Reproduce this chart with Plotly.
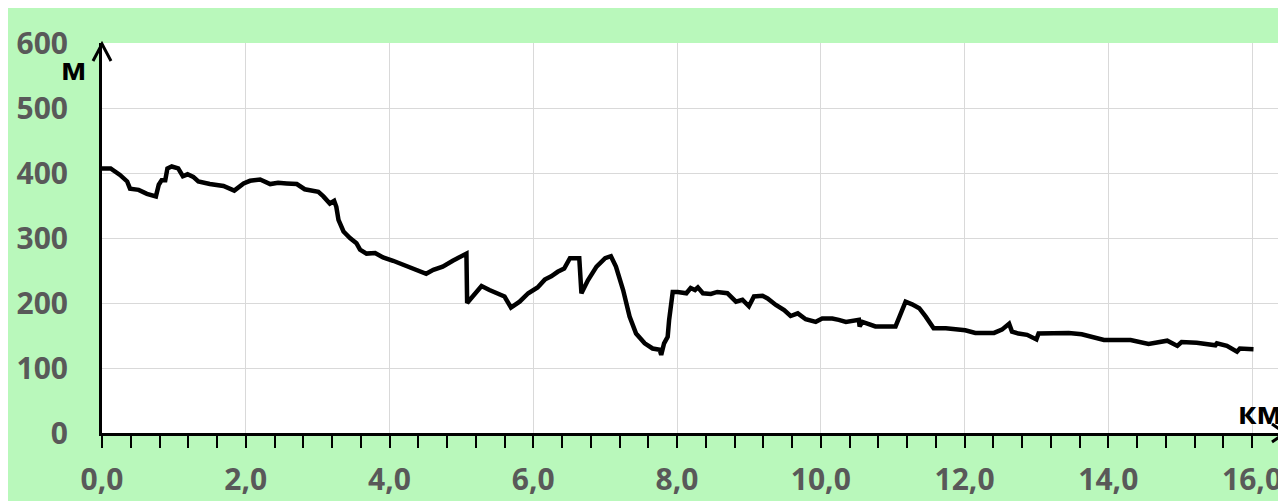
import plotly.graph_objects as go

# distance along route, km
dist_km = [0.0, 0.12, 0.25, 0.35, 0.39, 0.51, 0.625, 0.75, 0.79, 0.83, 0.88, 0.91, 0.97, 1.06, 1.125,
           1.19, 1.27, 1.34, 1.50, 1.69, 1.84, 1.97, 2.06, 2.20, 2.34, 2.45, 2.57, 2.71, 2.82, 2.89,
           3.01, 3.08, 3.17, 3.23, 3.26, 3.29, 3.36, 3.45, 3.54, 3.59, 3.68, 3.80, 3.91, 4.05, 4.24,
           4.40, 4.51, 4.61, 4.74, 4.88, 4.98, 5.07, 5.08, 5.16, 5.28, 5.39, 5.53, 5.60, 5.69, 5.81,
           5.93, 6.06, 6.16, 6.25, 6.34, 6.43, 6.51, 6.57, 6.64, 6.67, 6.76, 6.88, 7.0, 7.08, 7.15,
           7.25, 7.34, 7.43, 7.55, 7.66, 7.76, 7.78, 7.82, 7.87, 7.89, 7.94, 8.01, 8.13, 8.19, 8.25,
           8.29, 8.36, 8.47, 8.56, 8.70, 8.82, 8.91, 9.0, 9.07, 9.19, 9.26, 9.375, 9.49, 9.58, 9.68,
           9.79, 9.93, 10.02, 10.16, 10.25, 10.35, 10.53, 10.54, 10.58, 10.76, 11.04, 11.11, 11.18,
           11.27, 11.37, 11.46, 11.57, 11.74, 12.01, 12.15, 12.41, 12.52, 12.62, 12.66, 12.75, 12.87,
           13.0, 13.03, 13.22, 13.45, 13.63, 13.80, 13.94, 14.31, 14.56, 14.82, 14.96, 15.02, 15.23,
           15.49, 15.51, 15.65, 15.79, 15.83, 16.02]

# elevation, m
elev_m = [407, 407, 397, 387, 376, 374, 368, 364, 382, 389, 389, 407, 410, 407, 395,
          398, 394, 387, 383, 380, 373, 384, 388, 390, 383, 385, 384, 383, 375, 374,
          371, 364, 353, 357, 348, 328, 310, 300, 292, 282, 276, 277, 270, 265, 256,
          250, 245, 251, 256, 265, 271, 276, 200, 210, 226, 220, 214, 210, 193, 202,
          215, 224, 236, 241, 248, 253, 269, 269, 269, 215, 235, 256, 269, 272, 256,
          220, 179, 153, 138, 130, 128, 120, 138, 148, 174, 217, 217, 215, 223, 220,
          224, 215, 214, 217, 215, 202, 205, 195, 210, 211, 207, 197, 189, 180, 184,
          175, 171, 176, 176, 174, 171, 174, 164, 171, 164, 164, 184, 202,
          198, 192, 179, 161, 161, 158, 154, 154, 159, 168, 156, 153, 151,
          144, 153, 153, 154, 152, 147, 143, 143, 137, 142, 134, 140, 139,
          135, 138, 134, 125, 130, 129]

assert len(dist_km) == len(elev_m)

x_tick_vals = [0, 2, 4, 6, 8, 10, 12, 14, 16]
x_minor_vals = [round(i * 0.4, 1) for i in range(0, 41)]
y_tick_vals = [0, 100, 200, 300, 400, 500, 600]
x_unit = "км"
y_unit = "м"

GREEN = "#b9f8bb"
LABEL_GREY = "#595959"
FONT = "Open Sans"

fig = go.Figure()
fig.add_trace(go.Scatter(x=dist_km, y=elev_m, mode="lines",
                         line=dict(color="black", width=4.5), hoverinfo="skip"))

W, H = 1286, 501
ML, MR, MT, MB = 92, 9, 35, 76
pw = W - ML - MR
ph = H - MT - MB

fig.update_layout(
    width=W, height=H,
    margin=dict(l=ML, r=MR, t=MT, b=MB, pad=0),
    paper_bgcolor=GREEN, plot_bgcolor="white",
    separators=", ",
    showlegend=False,
    font=dict(family=FONT),
    xaxis=dict(range=[0, pw / 72.0], tickmode="array", tickvals=x_tick_vals, tickformat=".1f",
               showgrid=True, gridcolor="#d9d9d9", gridwidth=1,
               showline=True, linecolor="black", linewidth=3,
               ticks="outside", ticklen=12, tickwidth=2, tickcolor="black",
               minor=dict(tickmode="array", tickvals=x_minor_vals, ticks="outside",
                          ticklen=12, tickwidth=2, tickcolor="black", showgrid=False),
               tickfont=dict(family=FONT, size=30, color=LABEL_GREY, weight="bold"),
               ticklabelstandoff=6, zeroline=False, fixedrange=True),
    yaxis=dict(range=[0, 600], tickmode="array", tickvals=y_tick_vals,
               showgrid=True, gridcolor="#d9d9d9", gridwidth=1,
               showline=True, linecolor="black", linewidth=3,
               ticks="", ticklabelstandoff=25,
               tickfont=dict(family=FONT, size=30, color=LABEL_GREY, weight="bold"),
               zeroline=False, fixedrange=True),
)

# arrow heads
fig.add_shape(type="path", xref="paper", yref="paper", xsizemode="pixel", ysizemode="pixel",
              xanchor=0, yanchor=1, path="M-9,-18 L0,-1 L9,-18",
              line=dict(color="black", width=3))
fig.add_shape(type="path", xref="paper", yref="paper", xsizemode="pixel", ysizemode="pixel",
              xanchor=1, yanchor=0, path="M-13,9 L0,0 L-13,-9",
              line=dict(color="black", width=3))

fig.add_annotation(text=y_unit, xref="paper", yref="paper", x=-29 / pw, y=1 - 26 / ph,
                   showarrow=False, xanchor="center", yanchor="middle",
                   font=dict(family=FONT, size=30, color="black", weight="bold"))
fig.add_annotation(text=x_unit, xref="paper", yref="paper", x=1 - 25 / pw, y=21 / ph,
                   showarrow=False, xanchor="center", yanchor="middle",
                   font=dict(family=FONT, size=30, color="black", weight="bold"))

fig.write_html("out.html")
